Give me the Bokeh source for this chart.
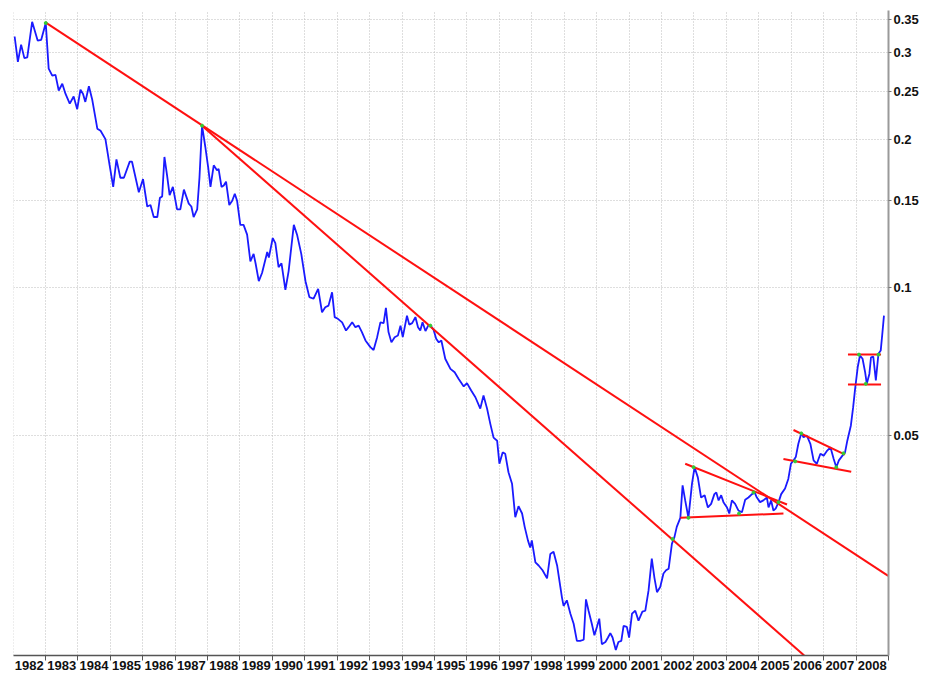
from bokeh.plotting import figure
from bokeh.models import FixedTicker, CustomJSTickFormatter, Range1d
from bokeh.embed import file_html
from bokeh.resources import INLINE

# ---- data ----
dates = [
    1982.05, 1982.15, 1982.25, 1982.35, 1982.44, 1982.59, 1982.76, 1982.87, 1983.01, 1983.10,
    1983.21, 1983.31, 1983.41, 1983.52, 1983.62, 1983.75, 1983.87, 1983.98, 1984.08, 1984.16,
    1984.23, 1984.34, 1984.44, 1984.60, 1984.70, 1984.85, 1984.98, 1985.09, 1985.19, 1985.31,
    1985.42, 1985.60, 1985.67, 1985.88, 1986.01, 1986.14, 1986.24, 1986.34, 1986.45, 1986.53,
    1986.60, 1986.67, 1986.75, 1986.83, 1986.93, 1987.06, 1987.16, 1987.27, 1987.42, 1987.50,
    1987.57, 1987.68, 1987.75, 1987.83, 1987.93, 1988.02, 1988.09, 1988.19, 1988.29, 1988.34,
    1988.43, 1988.50, 1988.57, 1988.67, 1988.76, 1988.84, 1988.91, 1989.01, 1989.11, 1989.22,
    1989.32, 1989.42, 1989.48, 1989.58, 1989.68, 1989.84, 1989.89, 1990.01, 1990.09, 1990.19,
    1990.28, 1990.40, 1990.50, 1990.66, 1990.76, 1990.89, 1991.02, 1991.14, 1991.27, 1991.41,
    1991.53, 1991.63, 1991.73, 1991.84, 1991.92, 1992.02, 1992.15, 1992.27, 1992.35, 1992.46,
    1992.56, 1992.66, 1992.76, 1992.87, 1993.02, 1993.12, 1993.23, 1993.33, 1993.43, 1993.50,
    1993.58, 1993.67, 1993.77, 1993.87, 1993.95, 1994.02, 1994.15, 1994.22, 1994.31, 1994.41,
    1994.49, 1994.56, 1994.63, 1994.72, 1994.82, 1994.90, 1994.97, 1995.05, 1995.13, 1995.21,
    1995.33, 1995.49, 1995.62, 1995.74, 1995.90, 1996.00, 1996.13, 1996.26, 1996.41, 1996.51,
    1996.62, 1996.72, 1996.82, 1996.93, 1997.00, 1997.10, 1997.18, 1997.28, 1997.39, 1997.49,
    1997.59, 1997.70, 1997.78, 1997.88, 1997.95, 1998.00, 1998.11, 1998.21, 1998.33, 1998.47,
    1998.57, 1998.67, 1998.78, 1998.88, 1998.93, 1998.98, 1999.08, 1999.19, 1999.29, 1999.39,
    1999.49, 1999.60, 1999.67, 1999.75, 1999.85, 1999.93, 2000.01, 2000.08, 2000.16, 2000.27,
    2000.35, 2000.42, 2000.49, 2000.59, 2000.67, 2000.76, 2000.83, 2000.93, 2001.00, 2001.09,
    2001.19, 2001.29, 2001.41, 2001.50, 2001.60, 2001.70, 2001.78, 2001.86, 2001.96, 2002.06,
    2002.14, 2002.22, 2002.32, 2002.40, 2002.47, 2002.58, 2002.65, 2002.73, 2002.83, 2002.94,
    2003.02, 2003.12, 2003.22, 2003.33, 2003.43, 2003.53, 2003.63, 2003.69, 2003.76, 2003.84,
    2003.91, 2004.02, 2004.09, 2004.17, 2004.27, 2004.37, 2004.48, 2004.58, 2004.68, 2004.79,
    2004.87, 2004.94, 2005.04, 2005.14, 2005.25, 2005.30, 2005.38, 2005.45, 2005.52, 2005.61,
    2005.69, 2005.81, 2005.91, 2005.99, 2006.07, 2006.14, 2006.22, 2006.31, 2006.38, 2006.48,
    2006.59, 2006.69, 2006.79, 2006.90, 2007.00, 2007.11, 2007.21, 2007.31, 2007.39, 2007.47,
    2007.58, 2007.66, 2007.73, 2007.84, 2007.91, 2007.97, 2008.05, 2008.12, 2008.20, 2008.28,
    2008.33, 2008.41, 2008.46, 2008.53, 2008.61, 2008.69, 2008.76, 2008.81, 2008.86,
]
values = [
    0.323, 0.287, 0.311, 0.292, 0.293, 0.346, 0.317, 0.318, 0.344, 0.278,
    0.269, 0.270, 0.251, 0.259, 0.247, 0.236, 0.244, 0.230, 0.252, 0.247,
    0.238, 0.256, 0.241, 0.210, 0.208, 0.200, 0.177, 0.160, 0.182, 0.167,
    0.167, 0.180, 0.180, 0.156, 0.166, 0.146, 0.147, 0.139, 0.139, 0.152,
    0.153, 0.184, 0.169, 0.154, 0.160, 0.144, 0.144, 0.158, 0.148, 0.146,
    0.139, 0.144, 0.167, 0.213, 0.193, 0.175, 0.160, 0.177, 0.173, 0.174,
    0.160, 0.161, 0.164, 0.147, 0.150, 0.155, 0.150, 0.134, 0.134, 0.128,
    0.113, 0.117, 0.112, 0.103, 0.107, 0.118, 0.115, 0.126, 0.123, 0.110,
    0.112, 0.0989, 0.108, 0.134, 0.128, 0.117, 0.103, 0.0956, 0.0949, 0.0994,
    0.0891, 0.0912, 0.0919, 0.0978, 0.0871, 0.0864, 0.0850, 0.0818, 0.0831, 0.0850,
    0.0831, 0.0837, 0.0812, 0.0781, 0.0757, 0.0747, 0.0793, 0.0850, 0.0847, 0.0909,
    0.0812, 0.0774, 0.0793, 0.0799, 0.0837, 0.0793, 0.0877, 0.0841, 0.0847, 0.0871,
    0.0831, 0.0818, 0.0850, 0.0816, 0.0841, 0.0833, 0.0821, 0.0787, 0.0774, 0.0781,
    0.0717, 0.0684, 0.0673, 0.0653, 0.0630, 0.0640, 0.0618, 0.0599, 0.0568, 0.0604,
    0.0568, 0.0529, 0.0496, 0.0489, 0.0439, 0.0463, 0.0460, 0.0422, 0.0400, 0.0342,
    0.0360, 0.0348, 0.0327, 0.0307, 0.0297, 0.0307, 0.0277, 0.0273, 0.0267, 0.0257,
    0.0288, 0.0291, 0.0273, 0.0247, 0.0235, 0.0226, 0.0232, 0.0218, 0.0208, 0.0192,
    0.0192, 0.0193, 0.0233, 0.0221, 0.0208, 0.0197, 0.0205, 0.0213, 0.0189, 0.0191,
    0.0195, 0.0199, 0.0195, 0.0184, 0.0191, 0.0192, 0.0206, 0.0205, 0.0195, 0.0218,
    0.0221, 0.0211, 0.0220, 0.0221, 0.0243, 0.0282, 0.0258, 0.0241, 0.0247, 0.0263,
    0.0267, 0.0269, 0.0302, 0.0312, 0.0327, 0.0341, 0.0397, 0.0370, 0.0341, 0.0400,
    0.0432, 0.0412, 0.0375, 0.0379, 0.0358, 0.0364, 0.0381, 0.0384, 0.0370, 0.0379,
    0.0367, 0.0358, 0.0348, 0.0370, 0.0364, 0.0353, 0.0350, 0.0371, 0.0375, 0.0381,
    0.0384, 0.0375, 0.0367, 0.0370, 0.0375, 0.0358, 0.0370, 0.0353, 0.0356, 0.0367,
    0.0381, 0.0391, 0.0409, 0.0439, 0.0446, 0.0453, 0.0482, 0.0506, 0.0497, 0.0501,
    0.0482, 0.0446, 0.0439, 0.0460, 0.0456, 0.0467, 0.0474, 0.0449, 0.0432, 0.0446,
    0.0456, 0.0463, 0.0489, 0.0525, 0.0572, 0.0623, 0.0689, 0.0728, 0.0717, 0.0673,
    0.0638, 0.0668, 0.0722, 0.0724, 0.0648, 0.0734, 0.0745, 0.0806, 0.0877,
]

# trend lines: (start year, end year), (start value, end value)
trend_x = [
    [1983.00, 2008.99],   # long-term resistance
    [1987.83, 2006.40],   # steeper resistance
    [2002.73, 2005.87],   # triangle top
    [2002.58, 2005.76],   # triangle bottom
    [2006.07, 2007.66],   # flag top
    [2005.76, 2007.85],   # flag bottom
    [2007.75, 2008.77],   # range top
    [2007.75, 2008.77],   # range bottom
]
trend_y = [
    [0.345, 0.0260],
    [0.213, 0.01793],
    [0.0439, 0.0363],
    [0.0341, 0.0348],
    [0.0514, 0.0458],
    [0.0449, 0.0423],
    [0.0731, 0.0731],
    [0.0636, 0.0636],
]

# touch points
touch_x = [1983.01, 1987.83, 1994.87, 2002.34, 2002.83, 2002.99, 2004.39, 2004.84,
           2005.61, 2006.12, 2006.31, 2007.61, 2007.39, 2008.09, 2008.30, 2008.69]
touch_y = [0.344, 0.213, 0.0837, 0.0309, 0.0341, 0.0432, 0.0348, 0.0384,
           0.0367, 0.0444, 0.0506, 0.0461, 0.0432, 0.0731, 0.0638, 0.0731]

x_tick_labels = ["1982", "1983", "1984", "1985", "1986", "1987", "1988", "1989", "1990",
                 "1991", "1992", "1993", "1994", "1995", "1996", "1997", "1998", "1999",
                 "2000", "2001", "2002", "2003", "2004", "2005", "2006", "2007", "2008"]
y_ticks = [0.05, 0.1, 0.15, 0.2, 0.25, 0.3, 0.35]

first_year = int(x_tick_labels[0])
year_starts = [int(s) for s in x_tick_labels] + [int(x_tick_labels[-1]) + 1]
label_pos = [int(s) + 0.5 for s in x_tick_labels]

FONT = "Liberation Sans"

p = figure(frame_width=875, frame_height=645,
           x_range=Range1d(1982.015, 2009.0),
           y_range=Range1d(0.01793, 0.3647),
           y_axis_type="log", y_axis_location="right",
           output_backend="svg", toolbar_location=None,
           min_border_left=13, min_border_top=10, min_border_bottom=0, min_border_right=0,
           background_fill_color="white", border_fill_color="white")
p.outline_line_color = None

# x axis
xa = p.xaxis[0]
xa.ticker = FixedTicker(ticks=label_pos, minor_ticks=year_starts)
xa.formatter = CustomJSTickFormatter(args=dict(labels=x_tick_labels, first=first_year),
                                     code="return labels[Math.floor(tick) - first];")
xa.major_tick_line_color = None
xa.major_tick_out = 4
xa.major_tick_in = 0
xa.minor_tick_line_color = "#555555"
xa.minor_tick_out = 5
xa.minor_tick_in = 0
xa.axis_line_color = "#555555"
xa.axis_line_width = 1.5
xa.major_label_standoff = 0
xa.major_label_text_font = FONT
xa.major_label_text_font_style = "bold"
xa.major_label_text_font_size = "13px"
xa.major_label_text_color = "#111111"

# y axis (right, log)
ya = p.yaxis[0]
ya.ticker = FixedTicker(ticks=y_ticks, minor_ticks=[])
ya.formatter = CustomJSTickFormatter(code="return String(Math.round(tick*100)/100);")
ya.major_tick_line_color = "#777777"
ya.major_tick_out = 3
ya.major_tick_in = 0
ya.minor_tick_line_color = None
ya.axis_line_color = "#9a9a9a"
ya.axis_line_width = 2
ya.major_label_standoff = 2
ya.major_label_text_font = FONT
ya.major_label_text_font_style = "bold"
ya.major_label_text_font_size = "13px"
ya.major_label_text_color = "#111111"

# grids
p.xgrid.ticker = FixedTicker(ticks=year_starts)
p.ygrid.ticker = FixedTicker(ticks=y_ticks)
for g in (p.xgrid[0], p.ygrid[0]):
    g.grid_line_color = "#bdbdbd"
    g.grid_line_dash = "1 2"
    g.grid_line_width = 1

# series
p.line(dates, values, line_color="#1a1aff", line_width=1.8)
p.multi_line(trend_x, trend_y, line_color="#ff1010", line_width=2)
p.scatter(touch_x, touch_y, size=3, color="#33cc33")

open("out.html", "w").write(file_html(p, INLINE))
